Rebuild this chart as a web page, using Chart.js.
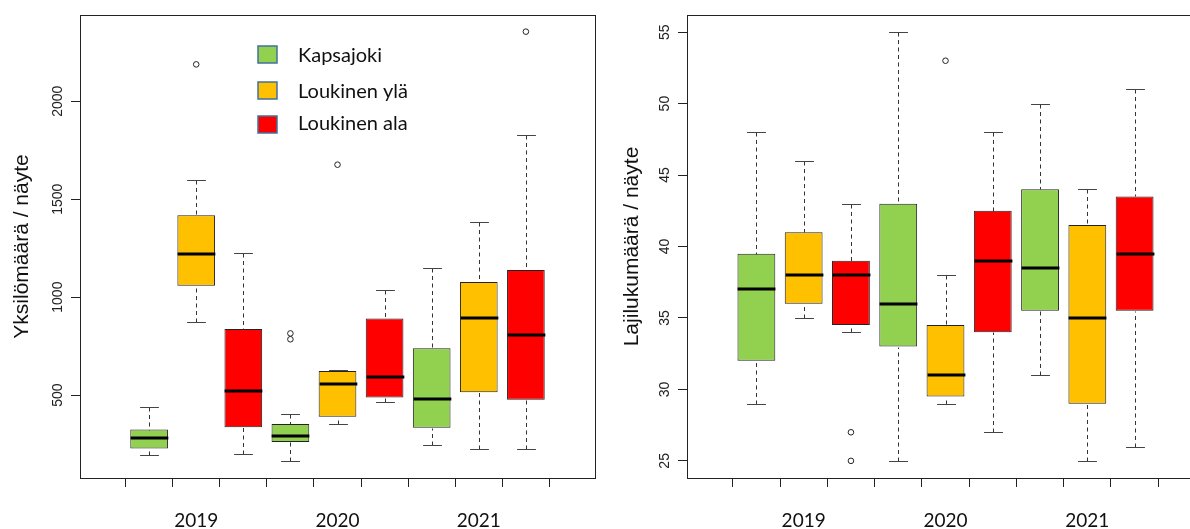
<!DOCTYPE html>
<html>
<head>
<meta charset="utf-8">
<script src="https://cdn.jsdelivr.net/npm/chart.js@4/dist/chart.umd.min.js"></script>
<style>
  body { margin: 0; background: #fff; width: 1190px; height: 529px; overflow: hidden; position: relative; }
  .panel { position: absolute; top: 0; }
</style>
</head>
<body>
<div class="panel" style="left:0"><canvas id="count-chart" width="600" height="529"></canvas></div>
<div class="panel" style="left:600px"><canvas id="species-chart" width="610" height="529"></canvas></div>
<script>
// Groups: one box per site and year
const years = ['2019', '2020', '2021'];
const sites = ['Kapsajoki', 'Loukinen ylä', 'Loukinen ala'];
const siteColors = ['#92d050', '#ffc000', '#ff0000'];

// Yksilömäärä / näyte (order: 2019 K, Ly, La, 2020 K, Ly, La, 2021 K, Ly, La)
const countMin = [195, 872, 200, 166, 352, 466, 247, 225, 225];
const countQ1 = [227, 1058, 336, 261, 389, 488, 333, 515, 476];
const countMedian = [282, 1218, 519, 290, 558, 594, 481, 892, 805];
const countQ3 = [324, 1418, 838, 352, 623, 891, 739, 1077, 1138];
const countMax = [437, 1596, 1224, 404, 630, 1036, 1148, 1382, 1826];
const countOutliers = [[], [2188], [], [815, 785], [1676], [], [], [], [2355]];
const countTicks = [500, 1000, 1500, 2000];

// Lajilukumäärä / näyte
const speciesMin = [29, 35, 34, 25, 29, 27, 31, 25, 26];
const speciesQ1 = [32, 36, 34.5, 33, 29.5, 34, 35.5, 29, 35.5];
const speciesMedian = [37, 38, 38, 36, 31, 39, 38.5, 35, 39.5];
const speciesQ3 = [39.5, 41, 39, 43, 34.5, 42.5, 44, 41.5, 43.5];
const speciesMax = [48, 46, 43, 55, 38, 48, 50, 44, 51];
const speciesOutliers = [[], [], [27, 25], [], [53], [], [], [], []];
const speciesTicks = [25, 30, 35, 40, 45, 50, 55];

const boxCount = years.length * sites.length;
const arial = "'Liberation Sans', Arial, sans-serif";
const calibri = "Lato, 'Open Sans', sans-serif";

// whiskers, caps and medians drawn from the scales
function boxParts(stats) {
  return {
    id: 'boxParts',
    afterDatasetsDraw(chart) {
      const { ctx, scales: { x, y } } = chart;
      const bars = chart.getDatasetMeta(0).data;
      const py = v => Math.round(y.getPixelForValue(v)) + 0.5;
      ctx.save();
      bars.forEach((bar, i) => {
        const cx = Math.round(x.getPixelForValue(i + 1)) + 0.5;
        const half = bar.width / 2;
        const yLow = py(stats.min[i]);
        const yHigh = py(stats.max[i]);

        // dashed whiskers
        ctx.strokeStyle = '#333';
        ctx.lineWidth = 1;
        ctx.setLineDash([4, 3.5]);
        ctx.beginPath();
        ctx.moveTo(cx, yHigh);
        ctx.lineTo(cx, py(stats.q3[i]));
        ctx.moveTo(cx, yLow);
        ctx.lineTo(cx, py(stats.q1[i]));
        ctx.stroke();

        // caps
        ctx.setLineDash([]);
        ctx.strokeStyle = '#444';
        ctx.beginPath();
        ctx.moveTo(cx - half / 2, yHigh);
        ctx.lineTo(cx + half / 2, yHigh);
        ctx.moveTo(cx - half / 2, yLow);
        ctx.lineTo(cx + half / 2, yLow);
        ctx.stroke();

        // median
        ctx.strokeStyle = '#000';
        ctx.lineWidth = 3;
        const yMed = Math.round(y.getPixelForValue(stats.median[i]));
        ctx.beginPath();
        ctx.moveTo(cx - half, yMed);
        ctx.lineTo(cx + half, yMed);
        ctx.stroke();
      });
      ctx.restore();
    }
  };
}

// box round the plot region
const frame = {
  id: 'frame',
  afterDraw(chart) {
    const { ctx, chartArea: a } = chart;
    ctx.save();
    ctx.strokeStyle = '#222';
    ctx.lineWidth = 1;
    ctx.strokeRect(a.left + 0.5, a.top + 0.5, a.right - a.left, a.bottom - a.top);
    ctx.restore();
  }
};

// legend inside the left plot
const siteLegend = {
  id: 'siteLegend',
  afterDraw(chart) {
    const { ctx } = chart;
    const boxTops = [46, 82, 116];
    const baselines = [62, 98, 130];
    ctx.save();
    sites.forEach((name, i) => {
      ctx.fillStyle = siteColors[i];
      ctx.fillRect(258, boxTops[i], 19, 17);
      ctx.strokeStyle = '#41719c';
      ctx.lineWidth = 1.5;
      ctx.strokeRect(258, boxTops[i], 19, 17);
      ctx.fillStyle = '#111';
      ctx.font = '20px ' + calibri;
      ctx.textBaseline = 'alphabetic';
      ctx.fillText(name, 298, baselines[i]);
    });
    ctx.restore();
  }
};

function makeBoxChart(canvasId, s) {
  const boxes = s.q1.map((q1, i) => ({ x: i + 1, y: [q1, s.q3[i]] }));
  const outliers = [];
  s.outliers.forEach((list, i) => list.forEach(v => outliers.push({ x: i + 1, y: v })));
  const colors = s.q1.map((_, i) => siteColors[i % sites.length]);

  const plugins = [boxParts(s), frame];
  if (s.legend) plugins.push(siteLegend);

  return new Chart(document.getElementById(canvasId), {
    type: 'bar',
    data: {
      datasets: [{
        type: 'bar',
        data: boxes,
        backgroundColor: colors,
        borderColor: '#222',
        borderWidth: 1,
        borderSkipped: false,
        barPercentage: 0.8,
        categoryPercentage: 1
      }, {
        type: 'scatter',
        data: outliers,
        pointStyle: 'circle',
        pointRadius: 2.8,
        borderWidth: 1,
        borderColor: '#222',
        backgroundColor: 'rgba(0,0,0,0)'
      }]
    },
    options: {
      responsive: false,
      animation: false,
      events: [],
      layout: { padding: { top: 15, right: s.padRight, left: 0, bottom: 0 } },
      plugins: { legend: { display: false }, tooltip: { enabled: false } },
      scales: {
        x: {
          type: 'linear',
          min: 0.14,
          max: boxCount - 0.14 + 1,
          afterBuildTicks: axis => {
            axis.ticks = s.q1.map((_, i) => ({ value: i + 1 }));
          },
          afterFit: axis => { axis.height = 51; },
          ticks: {
            autoSkip: false,
            maxRotation: 0,
            padding: 22,
            color: '#111',
            font: { family: calibri, size: 19 },
            callback: v => ((v - 2) % 3 === 0 ? years[(v - 2) / 3] : '')
          },
          grid: { drawOnChartArea: false, tickLength: 9, color: '#222' },
          border: { display: false }
        },
        y: {
          min: s.yMin,
          max: s.yMax,
          afterBuildTicks: axis => {
            axis.ticks = s.ticks.map(v => ({ value: v }));
          },
          afterFit: axis => { axis.width = s.axisWidth; },
          ticks: {
            autoSkip: false,
            minRotation: 90,
            maxRotation: 90,
            crossAlign: 'center',
            padding: s.tickPad,
            color: '#222',
            font: { family: arial, size: 14 },
            callback: v => String(v)
          },
          grid: { drawOnChartArea: false, tickLength: 9, color: '#222' },
          border: { display: false },
          title: {
            display: true,
            text: s.title,
            color: '#111',
            font: { family: arial, size: 21 },
            padding: { top: s.titlePad, bottom: 0 }
          }
        }
      }
    },
    plugins
  });
}

makeBoxChart('count-chart', {
  min: countMin, q1: countQ1, median: countMedian, q3: countQ3, max: countMax,
  outliers: countOutliers, ticks: countTicks,
  yMin: 77, yMax: 2440,
  title: 'Yksilömäärä / näyte',
  axisWidth: 80, tickPad: -3, titlePad: 9.5, padRight: 3,
  legend: true
});

makeBoxChart('species-chart', {
  min: speciesMin, q1: speciesQ1, median: speciesMedian, q3: speciesQ3, max: speciesMax,
  outliers: speciesOutliers, ticks: speciesTicks,
  yMin: 23.8, yMax: 56.2,
  title: 'Lajilukumäärä / näyte',
  axisWidth: 87, tickPad: 5.5, titlePad: 20, padRight: 6,
  legend: false
});
</script>
</body>
</html>
